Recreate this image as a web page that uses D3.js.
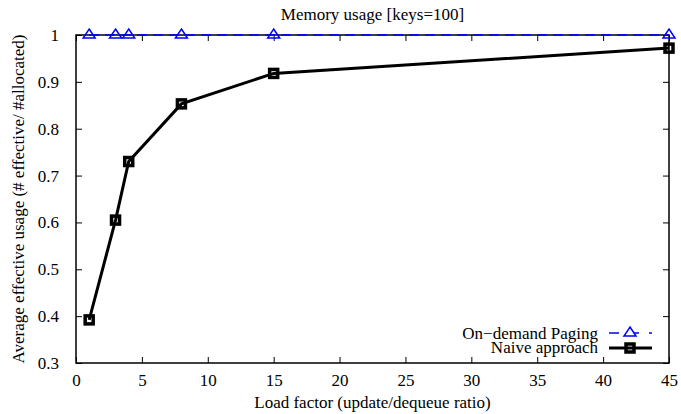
<!DOCTYPE html>
<html><head><meta charset="utf-8">
<script src="https://cdn.jsdelivr.net/npm/d3@7"></script>
<style>body{margin:0;background:#fff}svg{display:block}</style>
</head><body>
<svg id="c" width="681" height="414"></svg>
<script>
// Load factors and the measured effective usage per approach
const loadFactors = [1, 3, 4, 8, 15, 45];
const onDemand = [1, 1, 1, 1, 1, 1];
const naive = [0.392, 0.605, 0.73, 0.853, 0.918, 0.972];
const xTicks = [0, 5, 10, 15, 20, 25, 30, 35, 40, 45];
const yTicks = [0.3, 0.4, 0.5, 0.6, 0.7, 0.8, 0.9, 1];
const seriesNames = ["On\u2212demand Paging", "Naive approach"];

const FONT = "Liberation Serif";
const fs = 17;
const svg = d3.select("#c");
const m = {l: 76, r: 12, t: 35, b: 51};
const W = 681, H = 414;
const x = d3.scaleLinear().domain([0, 45]).range([m.l, W - m.r]);
const y = d3.scaleLinear().domain([0.3, 1]).range([H - m.b, m.t]);

const txt = (g) => g.attr("font-family", FONT).attr("font-size", fs).attr("fill", "#000");

// Axes with inward ticks on all four sides
const tk = 6;
const gx = svg.append("g").attr("transform", `translate(0,${y(0.3)})`)
  .call(d3.axisBottom(x).tickValues(xTicks).tickSize(-tk).tickPadding(11).tickFormat(d3.format("d")));
const gxt = svg.append("g").attr("transform", `translate(0,${y(1)})`)
  .call(d3.axisTop(x).tickValues(xTicks).tickSize(-tk).tickFormat(""));
const gy = svg.append("g").attr("transform", `translate(${x(0)},0)`)
  .call(d3.axisLeft(y).tickValues(yTicks).tickSize(-tk).tickPadding(17).tickFormat(d => d === 1 ? "1" : d3.format(".1f")(d)));
const gyr = svg.append("g").attr("transform", `translate(${x(45)},0)`)
  .call(d3.axisRight(y).tickValues(yTicks).tickSize(-tk).tickFormat(""));
[gx, gxt, gy, gyr].forEach(g => {
  g.select(".domain").remove();
  g.attr("font-family", FONT).attr("font-size", fs);
  g.selectAll(".tick line").attr("stroke", "#000").attr("stroke-width", 1);
  g.selectAll(".tick text").call(txt);
});
svg.append("rect").attr("x", x(0)).attr("y", y(1)).attr("width", x(45) - x(0)).attr("height", y(0.3) - y(1))
  .attr("fill", "none").attr("stroke", "#000").attr("stroke-width", 1.5);

// Titles
svg.append("text").attr("x", (x(0) + x(45)) / 2).attr("y", 20).attr("text-anchor", "middle").call(txt).text("Memory usage [keys=100]");
svg.append("text").attr("x", (x(0) + x(45)) / 2).attr("y", 408).attr("text-anchor", "middle").call(txt).text("Load factor (update/dequeue ratio)");
svg.append("text").attr("transform", `translate(24,${(y(0.3) + y(1)) / 2}) rotate(-90)`).attr("text-anchor", "middle").call(txt).text("Average effective usage (# effective/ #allocated)");

const blue = "#0000ff";
const line = d3.line().x(d => x(d[0])).y(d => y(d[1]));
const triPath = (cx, cy) => `M${cx},${cy - 6}L${cx + 6},${cy + 3}L${cx - 6},${cy + 3}Z`;

// On-demand paging series
const od = loadFactors.map((v, i) => [v, onDemand[i]]);
svg.append("path").attr("d", line(od)).attr("fill", "none").attr("stroke", blue).attr("stroke-width", 1.5).attr("stroke-dasharray", "10,6");
svg.selectAll(".tri").data(od).enter().append("path").attr("d", d => triPath(x(d[0]), y(d[1]))).attr("fill", "none").attr("stroke", blue).attr("stroke-width", 1.5);

// Naive approach series
const nv = loadFactors.map((v, i) => [v, naive[i]]);
svg.append("path").attr("d", line(nv)).attr("fill", "none").attr("stroke", "#000").attr("stroke-width", 3);
svg.selectAll(".sq").data(nv).enter().append("rect").attr("x", d => x(d[0]) - 4).attr("y", d => y(d[1]) - 4)
  .attr("width", 8).attr("height", 8).attr("fill", "none").attr("stroke", "#000").attr("stroke-width", 3.5);

// Legend
const lx = 598, ly1 = 333, ly2 = 348;
svg.append("text").attr("x", lx).attr("y", ly1 + 6).attr("text-anchor", "end").call(txt).text(seriesNames[0]);
svg.append("text").attr("x", lx).attr("y", ly2 + 5).attr("text-anchor", "end").call(txt).text(seriesNames[1]);
svg.append("line").attr("x1", 609).attr("x2", 652).attr("y1", ly1).attr("y2", ly1).attr("stroke", blue).attr("stroke-width", 1.5).attr("stroke-dasharray", "10,10");
svg.append("path").attr("d", triPath(630, ly1)).attr("fill", "#fff").attr("stroke", blue).attr("stroke-width", 1.5);
svg.append("line").attr("x1", 609).attr("x2", 652).attr("y1", ly2).attr("y2", ly2).attr("stroke", "#000").attr("stroke-width", 3);
svg.append("rect").attr("x", 626).attr("y", ly2 - 4).attr("width", 8).attr("height", 8).attr("fill", "none").attr("stroke", "#000").attr("stroke-width", 3.5);
</script>
</body></html>
